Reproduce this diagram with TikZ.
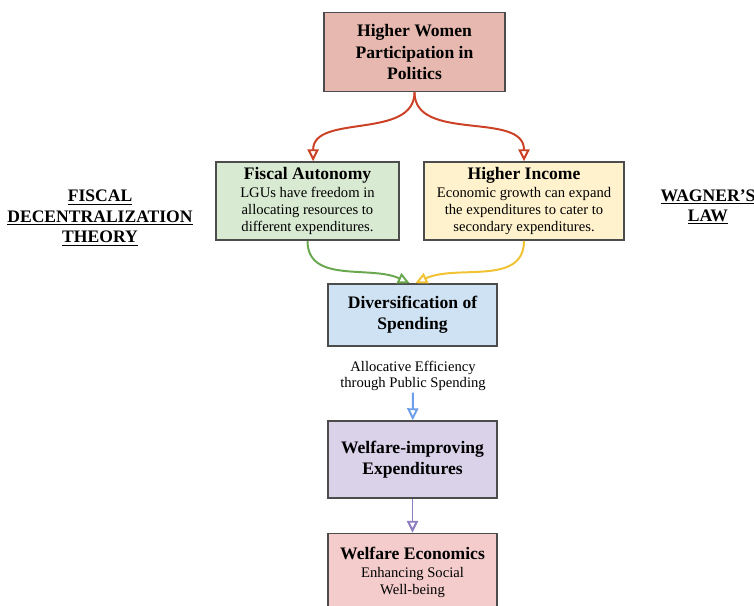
\documentclass[tikz,border=0pt]{standalone}
\usepackage{fontspec}
\setmainfont{Liberation Serif}
\usetikzlibrary{arrows.meta}

\definecolor{topfill}{HTML}{E6B8AF}
\definecolor{greenfill}{HTML}{D9EAD3}
\definecolor{yellowfill}{HTML}{FFF2CC}
\definecolor{bluefill}{HTML}{CFE2F3}
\definecolor{purplefill}{HTML}{D9D2E9}
\definecolor{pinkfill}{HTML}{F4CCCC}
\definecolor{redline}{HTML}{CC4125}
\definecolor{greenline}{HTML}{6AA84F}
\definecolor{yellowline}{HTML}{F1C232}
\definecolor{blueline}{HTML}{6D9EEB}
\definecolor{purpleline}{HTML}{8E7CC3}

\newcommand{\boxtitle}{\fontsize{12.5}{15}\selectfont\bfseries}
\newcommand{\boxbody}{\fontsize{10.4}{12.8}\selectfont}

\begin{document}
\begin{tikzpicture}[x=0.025cm, y=-0.025cm, thick,
    main/.style = {draw=black!70, line width=1.1pt, align=center, inner sep=2pt},
    side/.style = {align=center, font=\fontsize{12.5}{14.5}\selectfont\bfseries},
    link/.style = {line width=1.4pt, -{Triangle[open, length=8.5pt, width=8pt]}}]
    \useasboundingbox[fill=white] (0,0) rectangle (754,605);

    \node[main, fill=topfill, minimum width=4.525cm, minimum height=1.975cm, font=\boxtitle] (1) at (414.5,52) {Higher Women\\Participation in\\Politics};
    \node[main, fill=greenfill, minimum width=4.575cm, minimum height=1.95cm] (2) at (307.5,201) {{\boxtitle Fiscal Autonomy}\\[1pt]\boxbody LGUs have freedom in\\\boxbody allocating resources to\\\boxbody different expenditures.};
    \node[main, fill=yellowfill, minimum width=5cm, minimum height=1.95cm] (3) at (524,201) {{\boxtitle Higher Income}\\[1pt]\boxbody Economic growth can expand\\\boxbody the expenditures to cater to\\\boxbody secondary expenditures.};
    \node[main, fill=bluefill, minimum width=4.225cm, minimum height=1.55cm, font=\boxtitle] (4) at (412.5,315) {Diversification of\\Spending};
    \node[font=\fontsize{10.4}{11.4}\selectfont, align=center, inner sep=1pt] (lbl) at (413,376) {Allocative Efficiency\\through Public Spending};
    \node[main, fill=purplefill, minimum width=4.225cm, minimum height=1.925cm, font=\boxtitle] (5) at (412.5,459.5) {Welfare-improving\\Expenditures};
    \node[main, fill=pinkfill, minimum width=4.225cm, minimum height=1.925cm] (6) at (412.5,572) {{\boxtitle Welfare Economics}\\[1pt]\boxbody Enhancing Social\\\boxbody Well-being};

    \node[side] (7) at (100,218) {\underline{FISCAL}\\\underline{DECENTRALIZATION}\\\underline{THEORY}};
    \node[side] (8) at (708,207) {\underline{WAGNER'S}\\\underline{LAW}};

    \draw[link, redline] (1.south) to[out=-90, in=90] ([xshift=4pt]2.north);
    \draw[link, redline] (1.south) to[out=-90, in=90] (3.north);
    \draw[link, greenline] (2.south) to[out=-90, in=155] ([xshift=-2pt]4.north);
    \draw[link, yellowline] (3.south) to[out=-90, in=25] ([xshift=2pt]4.north);
    \draw[link, blueline] (lbl) -- (5);
    \draw[link, purpleline] (5) -- (6);
\end{tikzpicture}
\end{document}
